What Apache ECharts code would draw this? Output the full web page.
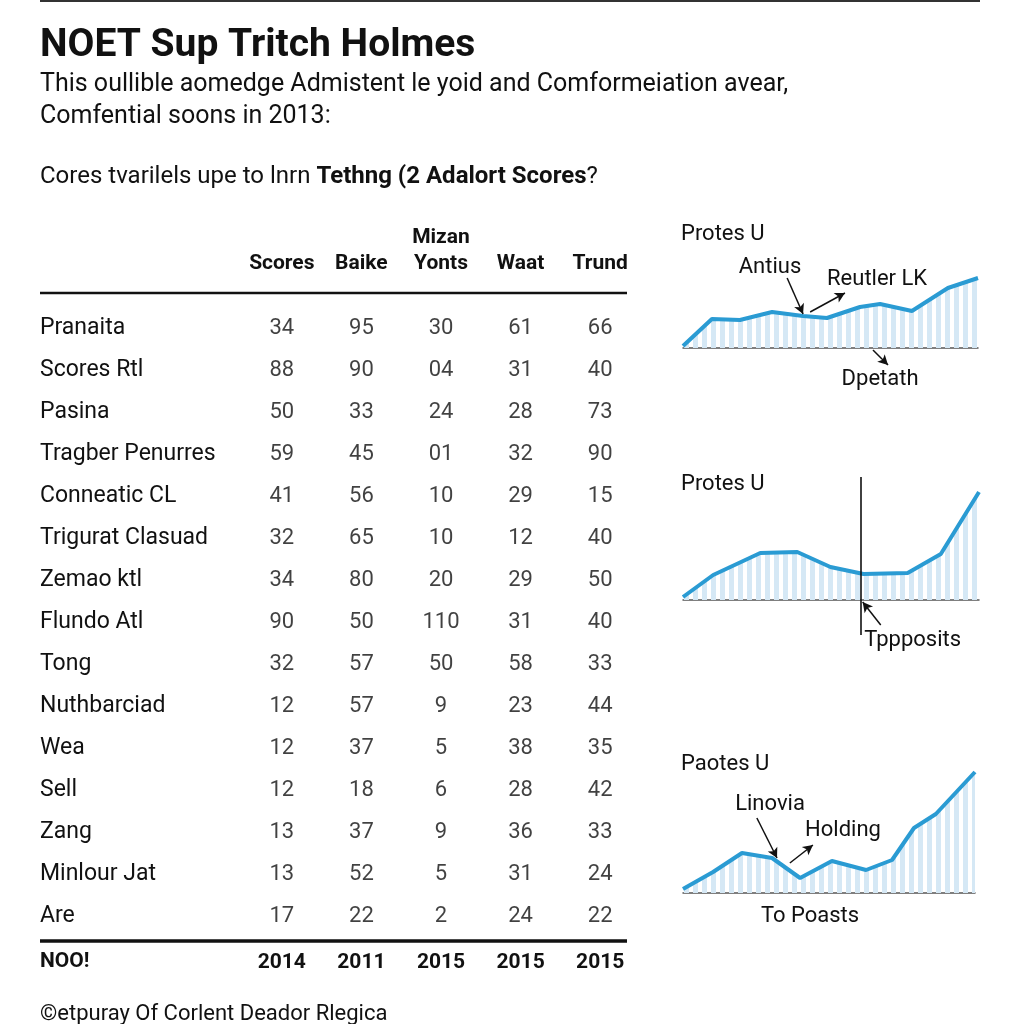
<!DOCTYPE html>
<html><head><meta charset="utf-8">
<script src="https://cdn.jsdelivr.net/npm/echarts@6/dist/echarts.min.js"></script>
<style>html,body{margin:0;padding:0;background:#fff}#c{width:1024px;height:1024px}</style>
</head><body><div id="c"></div>
<script>
// ---------- table data ----------
const columns = ['Scores', 'Baike', 'Mizan\nYonts', 'Waat', 'Trund'];
const rowNames = ['Pranaita', 'Scores Rtl', 'Pasina', 'Tragber Penurres', 'Conneatic CL',
  'Trigurat Clasuad', 'Zemao ktl', 'Flundo Atl', 'Tong', 'Nuthbarciad', 'Wea', 'Sell',
  'Zang', 'Minlour Jat', 'Are'];
const scores = ['34', '88', '50', '59', '41', '32', '34', '90', '32', '12', '12', '12', '13', '13', '17'];
const baike  = ['95', '90', '33', '45', '56', '65', '80', '50', '57', '57', '37', '18', '37', '52', '22'];
const yonts  = ['30', '04', '24', '01', '10', '10', '20', '110', '50', '9', '5', '6', '9', '5', '2'];
const waat   = ['61', '31', '28', '32', '29', '12', '29', '31', '58', '23', '38', '28', '36', '31', '24'];
const trund  = ['66', '40', '73', '90', '15', '40', '50', '40', '33', '44', '35', '42', '33', '24', '22'];
const footerLabel = 'NOO!';
const footerYears = ['2014', '2011', '2015', '2015', '2015'];

// ---------- mini trend charts ----------
const trend1X = [0, 9.8, 19.3, 30.2, 40.7, 48.8, 60.0, 66.8, 77.6, 89.8, 100];
const trend1Y = [2, 29, 28, 36, 32, 30, 41, 44, 37, 60, 70];
const trend2X = [0, 10.2, 26.1, 38.6, 49.8, 61.0, 75.9, 87.1, 100];
const trend2Y = [3, 25, 47, 48, 33, 26, 27, 46, 108];
const trend3X = [0, 10.3, 20.2, 30.5, 40.1, 51.0, 62.7, 71.6, 79.1, 86.6, 100];
const trend3Y = [4, 21, 40, 35, 15, 32, 23, 33, 65, 79, 121];
const miniTitles = ['Protes U', 'Protes U', 'Paotes U'];

const FONT = 'Roboto, "Noto Sans", sans-serif';
const INK = '#111';
const tableCols = [scores, baike, yonts, waat, trund];

// striped area pattern
const pat = document.createElement('canvas');
pat.width = 9; pat.height = 4;
const pctx = pat.getContext('2d');
pctx.fillStyle = '#d5e8f5';
pctx.fillRect(0, 0, 5, 4);

const chart = echarts.init(document.getElementById('c'), null, {renderer: 'canvas'});

function arrow(a, b) { return [{coord: a}, {coord: b}]; }
function plain(a, b) { return [{coord: a, symbol: 'none', lineStyle: {width: 1.6, color: '#111'}}, {coord: b, symbol: 'none'}]; }
function note(name, c) { return {name: name, coord: c}; }

function mini(idx, xs, ys, lines, notes) {
  return {
    type: 'line', xAxisIndex: idx + 2, yAxisIndex: idx + 1,
    data: xs.map((x, i) => [x, ys[i]]),
    symbol: 'none', smooth: false, z: 3,
    lineStyle: {color: '#2a9bd3', width: 4},
    areaStyle: {color: {image: pat, repeat: 'repeat'}, opacity: 1},
    markLine: {
      silent: true, symbol: ['none', 'arrow'], symbolSize: [8, 10],
      lineStyle: {color: '#111', width: 1.5, type: 'solid'},
      label: {show: false}, data: lines, animation: false
    },
    markPoint: {
      silent: true, symbol: 'rect', symbolSize: 1,
      itemStyle: {color: 'rgba(0,0,0,0)'},
      label: {show: true, position: 'inside', formatter: '{b}', color: INK, fontSize: 22, fontFamily: FONT},
      data: notes, animation: false
    }
  };
}

const miniGrids = [
  {left: 683, width: 295, top: 258, height: 130},
  {left: 683, width: 296, top: 475, height: 170},
  {left: 683, width: 292, top: 763, height: 170}
];
const miniY = [[-40, 90], [-45, 125], [-40, 130]];

const option = {
  backgroundColor: '#fff',
  animation: false,
  grid: [{left: 242, width: 398, top: 307, height: 630}].concat(miniGrids),
  xAxis: [
    {type: 'category', gridIndex: 0, position: 'top', data: columns,
     axisLine: {show: false}, axisTick: {show: false}, splitLine: {show: false},
     axisLabel: {interval: 0, margin: 30, color: INK, fontSize: 21, fontWeight: 'bold', fontFamily: FONT, lineHeight: 26}},
    {type: 'category', gridIndex: 0, position: 'bottom', data: columns,
     axisLine: {show: false}, axisTick: {show: false}, splitLine: {show: false},
     axisLabel: {interval: 0, margin: 13, color: INK, fontSize: 21, fontWeight: 'bold', fontFamily: FONT, lineHeight: 26,
       formatter: (v, i) => footerYears[i]}}
  ].concat(miniGrids.map((g, i) => ({
    type: 'value', gridIndex: i + 1, min: 0, max: 100,
    axisLine: {show: true, onZero: true, lineStyle: {color: '#555', width: 1.5}},
    axisTick: {show: false}, axisLabel: {show: false}, splitLine: {show: false}
  }))),
  yAxis: [
    {type: 'category', gridIndex: 0, inverse: true, data: rowNames,
     axisLine: {show: false}, axisTick: {show: false}, splitLine: {show: false},
     axisLabel: {interval: 0, align: 'left', margin: 202, color: INK, fontSize: 23, fontFamily: FONT}}
  ].concat(miniY.map((r, i) => ({
    type: 'value', gridIndex: i + 1, min: r[0], max: r[1],
    axisLine: {show: false}, axisTick: {show: false}, axisLabel: {show: false}, splitLine: {show: false}
  }))),
  series: [
    {
      type: 'scatter', xAxisIndex: 0, yAxisIndex: 0,
      data: tableCols.flatMap((col, c) => col.map((v, r) => [c, r])),
      symbol: 'rect', symbolSize: 1, itemStyle: {color: 'rgba(0,0,0,0)'}, silent: true,
      label: {show: true, position: 'inside', color: INK, fontSize: 22, fontFamily: FONT,
        formatter: p => tableCols[p.value[0]][p.value[1]]}
    },
    mini(0, trend1X, trend1Y,
      [arrow([35.3, 70], [40.7, 34]), arrow([43.1, 36], [54.9, 55]), arrow([64.4, -2], [69.5, -17])],
      [note('Antius', [29.5, 81]), note('Reutler LK', [65.8, 69]), note('Dpetath', [66.8, -31])]),
    mini(1, trend2X, trend2Y,
      [plain([60, -35], [60, 123]), arrow([66.8, -25], [60.7, -2])],
      [note('Tppposits', [77.6, -40])]),
    mini(2, trend3X, trend3Y,
      [arrow([25.3, 75], [32.2, 35]), arrow([36.6, 30], [44.5, 48])],
      [note('Linovia', [29.8, 89]), note('Holding', [54.8, 63]), note('To Poasts', [43.5, -23])])
  ],
  graphic: [
    {type: 'line', shape: {x1: 40, y1: 1, x2: 980, y2: 1}, style: {stroke: '#333', lineWidth: 2}},
    {type: 'text', x: 40, y: 46, style: {text: 'NOET Sup Tritch Holmes', font: 'bold 39px ' + FONT, fill: INK, verticalAlign: 'middle'}},
    {type: 'text', x: 40, y: 85, style: {text: 'This oullible aomedge Admistent le yoid and Comformeiation avear,', font: '25px ' + FONT, fill: INK, verticalAlign: 'middle'}},
    {type: 'text', x: 40, y: 117, style: {text: 'Comfential soons in 2013:', font: '25px ' + FONT, fill: INK, verticalAlign: 'middle'}},
    {type: 'text', x: 40, y: 177, style: {
      text: '{n|Cores tvarilels upe to lnrn }{b|Tethng (2 Adalort Scores}{n|?}',
      verticalAlign: 'middle', fill: INK,
      rich: {n: {fontSize: 24, fontFamily: FONT, fill: INK}, b: {fontSize: 24, fontFamily: FONT, fontWeight: 'bold', fill: INK}}
    }},
    {type: 'line', shape: {x1: 40, y1: 293, x2: 627, y2: 293}, style: {stroke: INK, lineWidth: 2.5}},
    {type: 'line', shape: {x1: 40, y1: 941, x2: 627, y2: 941}, style: {stroke: INK, lineWidth: 3.5}},
    {type: 'text', x: 40, y: 962, style: {text: footerLabel, font: 'bold 21px ' + FONT, fill: INK, verticalAlign: 'middle'}},
    {type: 'text', x: 40, y: 1014, style: {text: '©etpuray Of Corlent Deador Rlegica', font: '22px ' + FONT, fill: INK, verticalAlign: 'middle'}},
    {type: 'text', x: 681, y: 234, style: {text: miniTitles[0], font: '22px ' + FONT, fill: INK, verticalAlign: 'middle'}},
    {type: 'text', x: 681, y: 484, style: {text: miniTitles[1], font: '22px ' + FONT, fill: INK, verticalAlign: 'middle'}},
    {type: 'text', x: 681, y: 764, style: {text: miniTitles[2], font: '22px ' + FONT, fill: INK, verticalAlign: 'middle'}}
  ]
};
chart.setOption(option);
</script>
</body></html>
